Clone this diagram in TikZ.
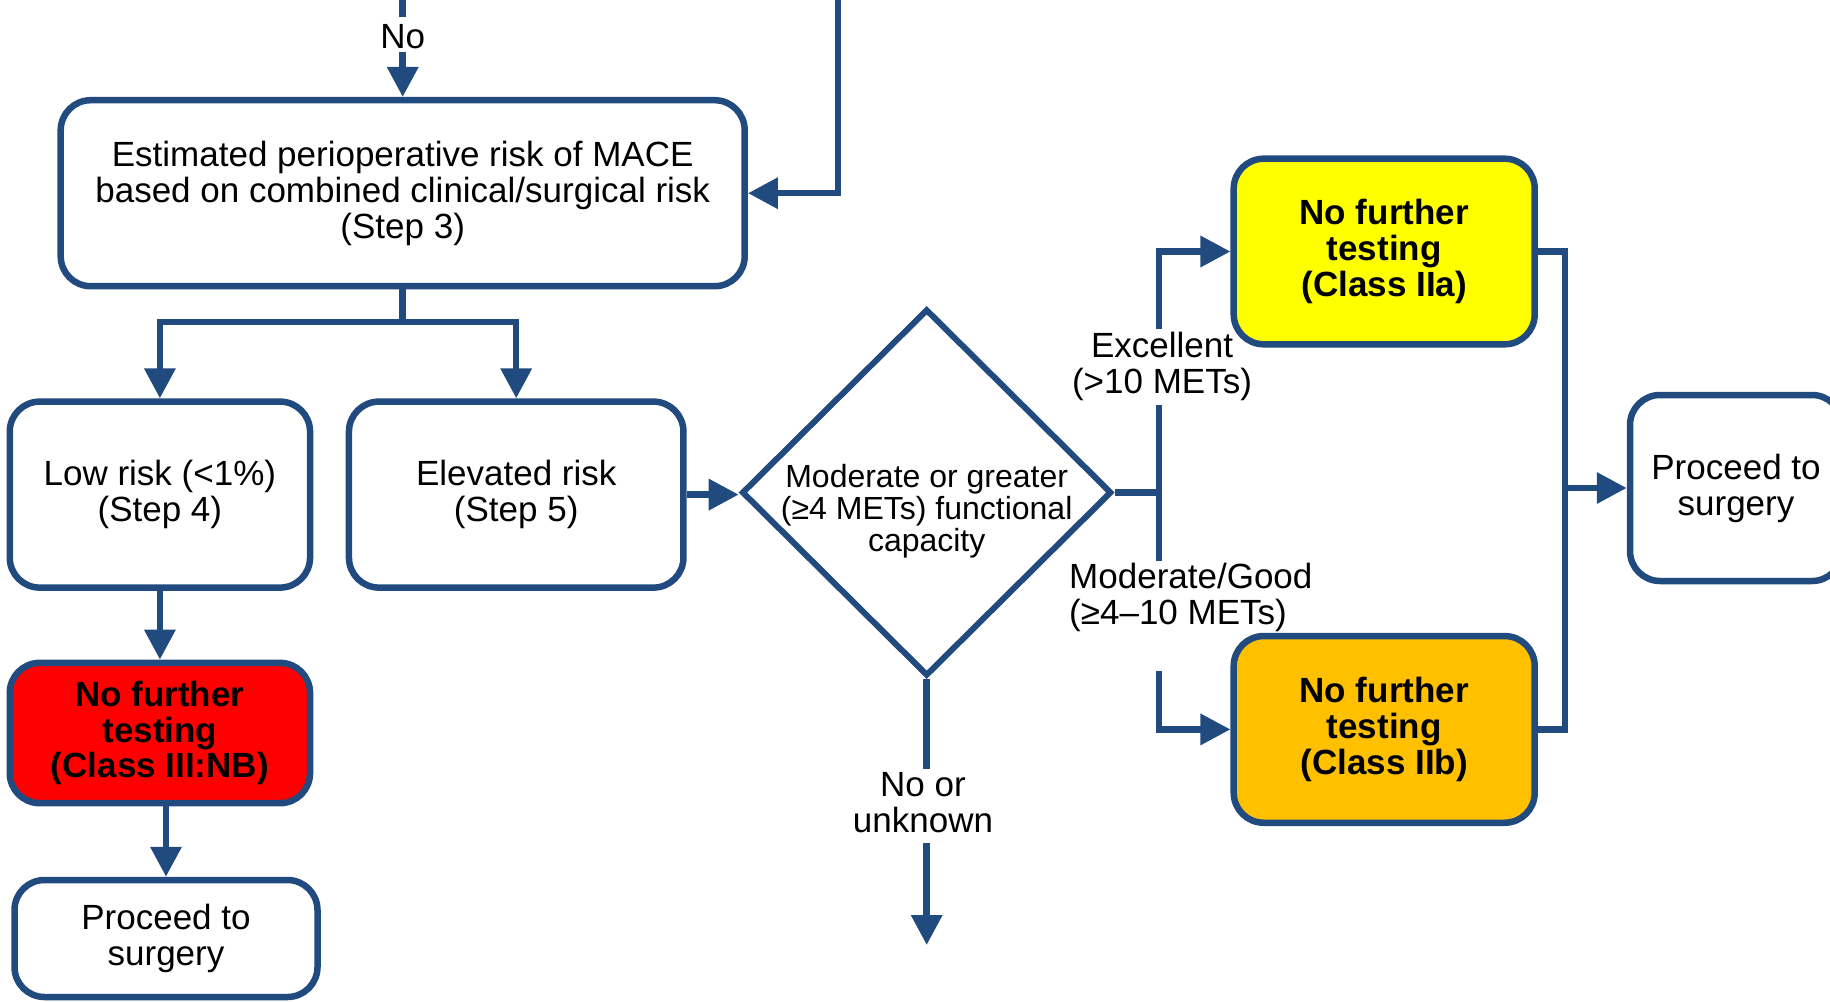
\documentclass[tikz,border=0pt]{standalone}
\usepackage{fontspec}
\setmainfont{Liberation Sans}
\usetikzlibrary{arrows.meta,shapes.geometric}
\definecolor{navy}{RGB}{33,74,126}
\definecolor{redfill}{RGB}{255,0,0}
\definecolor{yelfill}{RGB}{255,255,0}
\definecolor{orafill}{RGB}{255,192,0}
\begin{document}
\begin{tikzpicture}[x=1pt,y=-1pt,
  box/.style={draw=navy,line width=6.5pt,rounded corners=30pt,fill=white,inner sep=0pt,align=center,font=\fontsize{35}{36}\selectfont},
  boldbox/.style={box,font=\fontsize{35}{35.6}\selectfont\bfseries},
  lbl/.style={inner sep=0pt,align=center,font=\fontsize{35}{36}\selectfont},
  conn/.style={draw=navy,line width=6.5pt},
  arr/.style={conn,-{Triangle[length=30pt,width=30pt]}}]
\useasboundingbox (0,0) rectangle (1830,1001);
\clip (0,0) rectangle (1830,1001);

% boxes
\node[box,minimum width=684pt,minimum height=186pt] (s3) at (402.7,193.2)
  {Estimated perioperative risk of MACE\\based on combined clinical/surgical risk\\(Step 3)};
\node[box,minimum width=300.3pt,minimum height=186pt] (low) at (159.9,494.6)
  {Low risk (<1\%)\\(Step 4)};
\node[box,minimum width=334.5pt,minimum height=186pt] (elev) at (516.2,494.6)
  {Elevated risk\\(Step 5)};
\node[boldbox,fill=redfill,minimum width=300.3pt,minimum height=140.3pt] (red) at (159.9,733)
  {No further\\testing\\(Class III:NB)};
\node[box,minimum width=303pt,minimum height=117pt] (pl) at (166,938.5)
  {Proceed to\\surgery};
\node[draw=navy,line width=6pt,diamond,inner sep=0pt,minimum width=370pt,minimum height=367pt] (dia) at (926.7,492.5) {};
\node[lbl,font=\fontsize{32}{32}\selectfont] (diat) at (926.7,511) {Moderate or greater\\(≥4 METs) functional\\capacity};
\node[boldbox,fill=yelfill,minimum width=301pt,minimum height=185.6pt] (yel) at (1384.2,251.5)
  {No further\\testing\\(Class IIa)};
\node[boldbox,fill=orafill,minimum width=301pt,minimum height=186.7pt] (ora) at (1384.2,729.4)
  {No further\\testing\\(Class IIb)};
\node[box,minimum width=212pt,minimum height=186pt] (pr) at (1736,488)
  {Proceed to\\surgery};

% labels
\node[lbl] (no) at (402.7,37) {No};
\node[lbl] (exc) at (1162,366) {Excellent\\(>10 METs)};
\node[lbl,align=left,anchor=west] (mod) at (1069,597) {Moderate/Good\\(≥4–10 METs)};
\node[lbl] (nou) at (923,803) {No or\\unknown};

% connectors
\coordinate (ntop) at (402.7,-5);
\coordinate (nbot) at (402.7,17);
\coordinate (narr) at (402.7,52);
\draw[conn] (ntop) -- (nbot);
\draw[arr] (narr) -- (s3.north);
\coordinate (rtop) at (838,-5);
\draw[arr] (rtop) |- (s3.east);
\coordinate (split) at (402.7,322);
\draw[conn] (s3.south) -- (split);
\draw[arr] (split) -| (low.north);
\draw[arr] (split) -| (elev.north);
\draw[arr] (low.south) -- (red.north);
\draw[arr] (red.south -| pl.north) -- (pl.north);
\draw[arr] (elev.east) -- (elev.east -| dia.west);

\coordinate (jx) at (1159,492.5);
\coordinate (g1) at (1159,329);
\coordinate (g2) at (1159,405);
\coordinate (g3) at (1159,561);
\coordinate (g4) at (1159,670.6);
\draw[conn] (dia.east) -- (jx);
\draw[arr] (g1) |- (yel.west);
\draw[conn] (g2) -- (g3);
\draw[arr] (g4) |- (ora.west);

\coordinate (rx) at (1565,488);
\draw[conn] (yel.east) -| (rx) |- (ora.east);
\draw[arr] (rx) -- (pr.west);

\coordinate (d1) at (926.7,769);
\coordinate (d2) at (926.7,842.5);
\coordinate (d3) at (926.7,945);
\draw[conn] (dia.south) -- (d1);
\draw[arr] (d2) -- (d3);
\end{tikzpicture}
\end{document}
